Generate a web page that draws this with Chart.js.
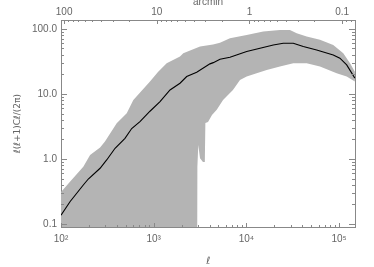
<!DOCTYPE html>
<html><head><meta charset="utf-8">
<script src="https://cdn.jsdelivr.net/npm/chart.js@4.4.1/dist/chart.umd.min.js"></script>
<style>html,body{margin:0;padding:0;background:#fff}#wrap{width:374px;height:267px}</style>
</head><body><div id="wrap"><canvas id="c" width="374" height="267"></canvas></div>
<script>
// Mean spectrum (black line)
const lineEll = [100,125,174,197,264,311,383,490,579,711,912,1170,1500,1922,2270,2910,4045,4395,5190,6650,10070,14030,19500,25000,32060,41100,57300,86500,102000,120800,148000];
const lineVal = [0.137,0.22,0.398,0.492,0.72,0.966,1.46,2.08,2.94,3.75,5.42,7.62,11.5,14.6,18.5,21.6,29,30.3,34.2,36.7,44.8,50.5,56.7,60.3,60.3,53.5,47.5,39.8,35.4,27.9,17.5];
// Grey band upper edge
const upperEll = [100,125,174,206,264,298,399,512,603,912,1112,1380,1922,2085,3162,4365,5190,6650,10070,15200,23000,29500,34900,44700,62200,86500,111000,131200,148000];
const upperVal = [0.31,0.448,0.762,1.15,1.5,1.85,3.54,5.05,8.09,15.5,21.8,29.6,37.5,42.3,53.5,57.5,61,72,80.9,90.9,96.5,96.5,85.9,76.2,67.8,56.7,42.3,29.6,22];
// Grey band lower edge (0.01 = below the plotted range)
const lowerEll = [100,2940,2960,3027,3160,3400,3560,3610,3855,4256,4790,5600,7160,8530,10070,12900,16560,23000,32060,44700,62200,94200,120800,148000];
const lowerVal = [0.01,0.01,0.75,1.64,1.03,0.9,0.9,3.58,3.7,4.75,5.7,8.1,11.5,16.4,18.5,20.8,23.4,26.3,29.6,29.6,26.3,20.8,18.5,15.5];
// Tick labels
const xTickLabels = ['10²','10³','10⁴','10⁵'];
const yTickLabels = ['0.1','1.0','10.0','100.0'];
const arcminTicks = [100,10,1,0.1];
const arcminLabels = ['100','10','1','0.1'];

const X_MIN = 100, X_MAX = 148500, Y_MIN = 0.09, Y_MAX = 137;
const AX = '#888', TXT = '#666';
const FONT = {family:'Liberation Sans, Arial, sans-serif', size:10};

function isPow10(v){const l=Math.log10(v);return Math.abs(l-Math.round(l))<1e-6;}

const linePts = lineEll.map((e,i)=>({x:e,y:lineVal[i]}));
const bandPts = upperEll.map((e,i)=>({x:e,y:upperVal[i]}))
  .concat(lowerEll.map((e,i)=>({x:e,y:lowerVal[i]})).reverse());

const tickPlugin = {
  id:'inTicks',
  afterDraw(chart){
    const ctx = chart.ctx, a = chart.chartArea;
    const sx = chart.scales.x, sy = chart.scales.y, sx2 = chart.scales.x2;
    ctx.save(); ctx.strokeStyle = AX; ctx.lineWidth = 1;
    ctx.beginPath();
    for(let e=2;e<=5;e++) for(let d=1;d<=9;d++){
      const v=d*Math.pow(10,e); if(v<X_MIN||v>X_MAX) continue;
      const p=Math.round(sx.getPixelForValue(v))+0.5, L=d===1?4:2;
      ctx.moveTo(p,a.bottom); ctx.lineTo(p,a.bottom-L);
    }
    for(let e=-2;e<=2;e++) for(let d=1;d<=9;d++){
      const th=d*Math.pow(10,e), v=10800/th; if(v<X_MIN||v>X_MAX) continue;
      const p=Math.round(sx2.getPixelForValue(v))+0.5, L=d===1?4:2;
      ctx.moveTo(p,a.top); ctx.lineTo(p,a.top+L);
    }
    for(let e=-2;e<=2;e++) for(let d=1;d<=9;d++){
      const v=d*Math.pow(10,e); if(v<Y_MIN||v>Y_MAX) continue;
      const p=Math.round(sy.getPixelForValue(v))+0.5, L=d===1?6:3;
      ctx.moveTo(a.left,p); ctx.lineTo(a.left+L,p);
      ctx.moveTo(a.right,p); ctx.lineTo(a.right-L,p);
    }
    ctx.stroke(); ctx.restore();
  }
};

new Chart(document.getElementById('c'), {
  type:'line',
  data:{datasets:[
    {data:linePts, borderColor:'#000', borderWidth:1.1, pointRadius:0, fill:false, tension:0, order:0},
    {data:bandPts, borderWidth:0, borderColor:'rgba(0,0,0,0)', backgroundColor:'#b4b4b4', pointRadius:0, fill:'shape', tension:0, order:1}
  ]},
  options:{
    responsive:false, animation:false, devicePixelRatio:1,
    layout:{padding:{left:0,right:19,top:0,bottom:0}},
    plugins:{legend:{display:false}, tooltip:{enabled:false}},
    scales:{
      x:{type:'logarithmic', position:'bottom', min:X_MIN, max:X_MAX,
        grid:{display:false, drawTicks:false}, border:{display:true,color:AX,width:1},
        ticks:{autoSkip:false, maxRotation:0, padding:6, font:FONT, color:TXT,
          callback:(v)=> isPow10(v) ? xTickLabels[Math.round(Math.log10(v))-2] : ''},
        title:{display:true, text:'ℓ', color:TXT, font:{family:'DejaVu Sans', size:10, style:'italic'}, padding:{top:9,bottom:0}},
        afterFit:(s)=>{s.height=40;}},
      x2:{type:'logarithmic', position:'top', min:X_MIN, max:X_MAX,
        grid:{display:false, drawTicks:false}, border:{display:true,color:AX,width:1},
        afterBuildTicks:(s)=>{s.ticks = arcminTicks.map(a=>({value:10800/a}));},
        ticks:{autoSkip:false, maxRotation:0, padding:2, font:FONT, color:TXT,
          callback:(v,i)=> arcminLabels[i]},
        title:{display:true, text:'arcmin', color:TXT, font:{family:'Liberation Sans, Arial, sans-serif', size:10, lineHeight:0.5}, padding:{top:0,bottom:0}},
        afterFit:(s)=>{s.height=20;}},
      y:{type:'logarithmic', position:'left', min:Y_MIN, max:Y_MAX,
        grid:{display:false, drawTicks:false}, border:{display:true,color:AX,width:1},
        ticks:{autoSkip:false, padding:4, font:FONT, color:TXT,
          callback:(v)=> isPow10(v) ? yTickLabels[Math.round(Math.log10(v))+1] : ''},
        title:{display:true, text:'ℓ(ℓ+1)Cℓ/(2π)', color:TXT, font:{family:'DejaVu Sans', size:9}, padding:{top:12,bottom:0}},
        afterFit:(s)=>{s.width=61;}},
      y2:{type:'logarithmic', position:'right', min:Y_MIN, max:Y_MAX,
        grid:{display:false, drawTicks:false}, border:{display:true,color:AX,width:1},
        ticks:{display:false},
        afterFit:(s)=>{s.width=0;}}
    }
  },
  plugins:[tickPlugin]
});
</script></body></html>
